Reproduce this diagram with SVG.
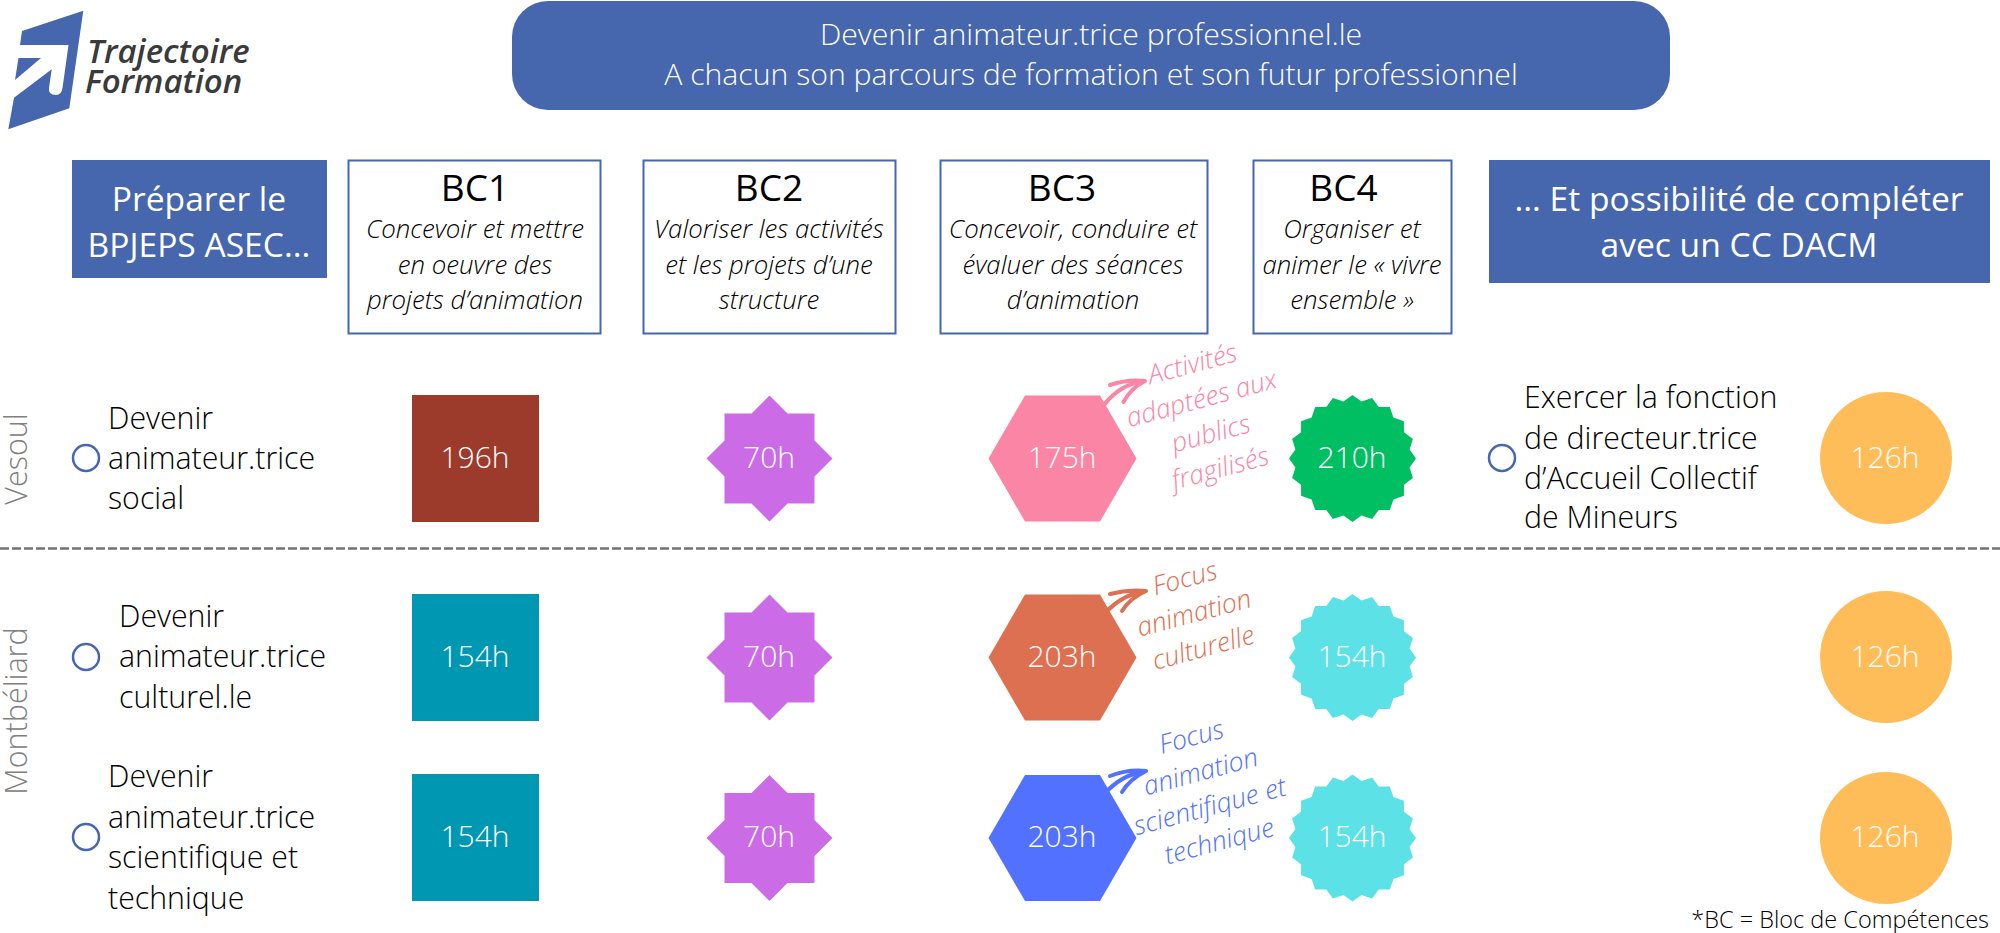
<svg xmlns="http://www.w3.org/2000/svg" width="2000" height="933" viewBox="0 0 2000 933">
<style>
text{font-family:"Open Sans","Liberation Sans",sans-serif}
.h{font-size:30px;font-weight:300;fill:#fff;text-anchor:middle}
.hd{fill:#4666ad}
.tt{font-size:30.200px;font-weight:300;fill:#fff;text-anchor:middle}
.hw{font-size:33.600px;font-weight:400;fill:#fff;text-anchor:middle}
.bx{fill:#fff;stroke:#4666ad;stroke-width:2}
.bt{font-size:37px;fill:#000;text-anchor:middle}
.bi{font-size:25.800px;font-style:italic;font-weight:300;fill:#000;text-anchor:middle}
.lb{font-size:30.300px;font-weight:300;fill:#000}
.rd{fill:#fff;stroke:#4666ad;stroke-width:2.500}
.site{font-size:30.500px;font-weight:300;fill:#808080;text-anchor:middle}
.nt{font-size:26.500px;font-style:italic;font-weight:300;text-anchor:middle}
.ar{fill:none;stroke-width:4;stroke-linecap:round}
.lg{font-size:33px;font-style:italic;font-weight:600;fill:#3a3a3a}
</style>
<defs>
<polygon id="star8" points="0,-63 18,-45 45,-45 45,-18 63,0 45,18 45,45 18,45 0,63 -18,45 -45,45 -45,18 -63,0 -45,-18 -45,-45 -18,-45"/>
<polygon id="hex" points="-37.500,-63 37.500,-63 74,0 37.500,63 -37.500,63 -74,0"/>
<polygon id="badge" points="0,-63.500 9,-57.100 19.600,-60.400 26.200,-51.500 37.300,-51.400 40.900,-40.900 51.400,-37.300 51.500,-26.200 60.400,-19.600 57.100,-9 63.500,0 57.100,9 60.400,19.600 51.500,26.200 51.400,37.300 40.900,40.900 37.300,51.400 26.200,51.500 19.600,60.400 9,57.100 0,63.500 -9,57.100 -19.600,60.400 -26.200,51.500 -37.300,51.400 -40.900,40.900 -51.400,37.300 -51.500,26.200 -60.400,19.600 -57.100,9 -63.500,0 -57.100,-9 -60.400,-19.600 -51.500,-26.200 -51.400,-37.300 -40.900,-40.900 -37.300,-51.400 -26.200,-51.500 -19.600,-60.400 -9,-57.100"/>
</defs>
<rect width="2000" height="933" fill="#fff"/>

<g id="logo">
<path class="hd" d="M22,31 L83.300,10.700 L69.300,108.300 L8.300,129.300 L14,97.700 L51.700,69.300 L49,88 Q48,95 56,95 Q61.500,95 62.500,88 L68.500,45 L20,45 Z"/>
<path class="hd" d="M18.500,58 L41,58 L15,80 Z"/>
<text class="lg" x="87" y="63">Trajectoire</text>
<text class="lg" x="85" y="93">Formation</text>
</g>

<g id="title">
<rect class="hd" x="512" y="1" width="1158" height="109" rx="36"/>
<text class="tt" x="1091" y="44.500">Devenir animateur.trice professionnel.le</text>
<text class="tt" x="1091" y="85">A chacun son parcours de formation et son futur professionnel</text>
</g>

<g id="prep">
<rect class="hd" x="72" y="160" width="255" height="118"/>
<text class="hw" x="199" y="210.500">Préparer le</text>
<text class="hw" x="199" y="256.500">BPJEPS ASEC...</text>
</g>
<g id="bc1">
<rect class="bx" x="348.500" y="160.500" width="252" height="173"/>
<text class="bt" x="475" y="201">BC1</text>
<text class="bi" x="475" y="238">Concevoir et mettre</text>
<text class="bi" x="475" y="274">en oeuvre des</text>
<text class="bi" x="475" y="309">projets d’animation</text>
</g>
<g id="bc2">
<rect class="bx" x="643.500" y="160.500" width="252" height="173"/>
<text class="bt" x="769" y="201">BC2</text>
<text class="bi" x="769" y="238">Valoriser les activités</text>
<text class="bi" x="769" y="274">et les projets d’une</text>
<text class="bi" x="769" y="309">structure</text>
</g>
<g id="bc3">
<rect class="bx" x="940.500" y="160.500" width="267" height="173"/>
<text class="bt" x="1062" y="201">BC3</text>
<text class="bi" x="1073" y="238">Concevoir, conduire et</text>
<text class="bi" x="1073" y="274">évaluer des séances</text>
<text class="bi" x="1073" y="309">d’animation</text>
</g>
<g id="bc4">
<rect class="bx" x="1253.500" y="160.500" width="198" height="173"/>
<text class="bt" x="1343.500" y="201">BC4</text>
<text class="bi" x="1352" y="238">Organiser et</text>
<text class="bi" x="1352" y="274">animer le « vivre</text>
<text class="bi" x="1352" y="309">ensemble »</text>
</g>
<g id="cc">
<rect class="hd" x="1489" y="160" width="501" height="123"/>
<text class="hw" x="1739" y="211">... Et possibilité de compléter</text>
<text class="hw" x="1739" y="257">avec un CC DACM</text>
</g>

<g id="sites">
<text class="site" transform="translate(27,459) rotate(-90)">Vesoul</text>
<text class="site" transform="translate(27,711) rotate(-90)">Montbéliard</text>
<line x1="0" y1="548.500" x2="2000" y2="548.500" stroke="#737373" stroke-width="2.500" stroke-dasharray="9 3"/>
</g>

<g id="row-social">
<circle class="rd" cx="86" cy="458" r="13"/>
<text class="lb" x="108" y="429">Devenir</text>
<text class="lb" x="108" y="469">animateur.trice</text>
<text class="lb" x="108" y="509">social</text>
</g>
<g id="row-culturel">
<circle class="rd" cx="86" cy="657" r="13"/>
<text class="lb" x="119" y="627">Devenir</text>
<text class="lb" x="119" y="667">animateur.trice</text>
<text class="lb" x="119" y="708">culturel.le</text>
</g>
<g id="row-scientifique">
<circle class="rd" cx="86" cy="837" r="13"/>
<text class="lb" x="108" y="787">Devenir</text>
<text class="lb" x="108" y="828">animateur.trice</text>
<text class="lb" x="108" y="868">scientifique et</text>
<text class="lb" x="108" y="909">technique</text>
</g>
<g id="row-directeur">
<circle class="rd" cx="1502" cy="458" r="13"/>
<text class="lb" x="1524" y="408">Exercer la fonction</text>
<text class="lb" x="1524" y="449">de directeur.trice</text>
<text class="lb" x="1524" y="489">d’Accueil Collectif</text>
<text class="lb" x="1524" y="528">de Mineurs</text>
</g>

<g id="n196"><rect x="412" y="395" width="127" height="127" fill="#9c3b2c"/><text class="h" x="475" y="468">196h</text></g>
<g id="n154a"><rect x="412" y="594" width="127" height="127" fill="#0097b2"/><text class="h" x="475" y="667">154h</text></g>
<g id="n154b"><rect x="412" y="774" width="127" height="127" fill="#0097b2"/><text class="h" x="475" y="847">154h</text></g>

<g id="n70a"><use href="#star8" x="769.500" y="458.500" fill="#cb6ce6"/><text class="h" x="769" y="468">70h</text></g>
<g id="n70b"><use href="#star8" x="769.500" y="657.500" fill="#cb6ce6"/><text class="h" x="769" y="667">70h</text></g>
<g id="n70c"><use href="#star8" x="769.500" y="838" fill="#cb6ce6"/><text class="h" x="769" y="847">70h</text></g>

<g id="n175"><use href="#hex" x="1062.500" y="458.500" fill="#fa85a5"/><text class="h" x="1062" y="468">175h</text></g>
<g id="n203a"><use href="#hex" x="1062.500" y="657.500" fill="#dd7050"/><text class="h" x="1062" y="667">203h</text></g>
<g id="n203b"><use href="#hex" x="1062.500" y="838" fill="#5271ff"/><text class="h" x="1062" y="847">203h</text></g>

<g id="n210"><use href="#badge" x="1352.500" y="458.500" fill="#00bf63"/><text class="h" x="1352" y="468">210h</text></g>
<g id="n154c"><use href="#badge" x="1352.500" y="657.500" fill="#5ce1e6"/><text class="h" x="1352" y="667">154h</text></g>
<g id="n154d"><use href="#badge" x="1352.500" y="838" fill="#5ce1e6"/><text class="h" x="1352" y="847">154h</text></g>

<g id="n126a"><circle cx="1886" cy="458" r="66" fill="#ffbd59"/><text class="h" x="1885" y="468">126h</text></g>
<g id="n126b"><circle cx="1886" cy="657" r="66" fill="#ffbd59"/><text class="h" x="1885" y="667">126h</text></g>
<g id="n126c"><circle cx="1886" cy="838" r="66" fill="#ffbd59"/><text class="h" x="1885" y="847">126h</text></g>

<g id="note-public" transform="translate(1206,415) rotate(-15)" fill="#fa85a5">
<text class="nt" y="-44">Activités</text>
<text class="nt" y="-8">adaptées aux</text>
<text class="nt" y="28">publics</text>
<text class="nt" y="64">fragilisés</text>
</g>
<g id="note-culture" transform="translate(1194,613) rotate(-15)" fill="#dd7050">
<text class="nt" y="-27">Focus</text>
<text class="nt" y="9">animation</text>
<text class="nt" y="45">culturelle</text>
</g>
<g id="note-science" transform="translate(1205,788) rotate(-15)" fill="#5271ff">
<text class="nt" y="-44">Focus</text>
<text class="nt" y="-8">animation</text>
<text class="nt" y="28">scientifique et</text>
<text class="nt" y="64">technique</text>
</g>

<g id="connectors">
<path class="ar" stroke="#fa85a5" d="M1104,405 Q1120,384 1145,381 M1110,385 Q1128,379 1145,381 M1123.500,402 Q1131,388 1145,381"/>
<path class="ar" stroke="#dd7050" d="M1108,610 Q1124,594 1146,591 M1110,594 Q1128,589 1146,591 M1122,611 Q1130,598 1146,591"/>
<path class="ar" stroke="#5271ff" d="M1108,790 Q1124,774 1146,771 M1110,776 Q1128,769 1146,771 M1122,792 Q1130,779 1146,771"/>
</g>

<text id="footnote" x="1989" y="928" font-size="23.500" font-weight="300" fill="#000" text-anchor="end">*BC = Bloc de Compétences</text>
</svg>
